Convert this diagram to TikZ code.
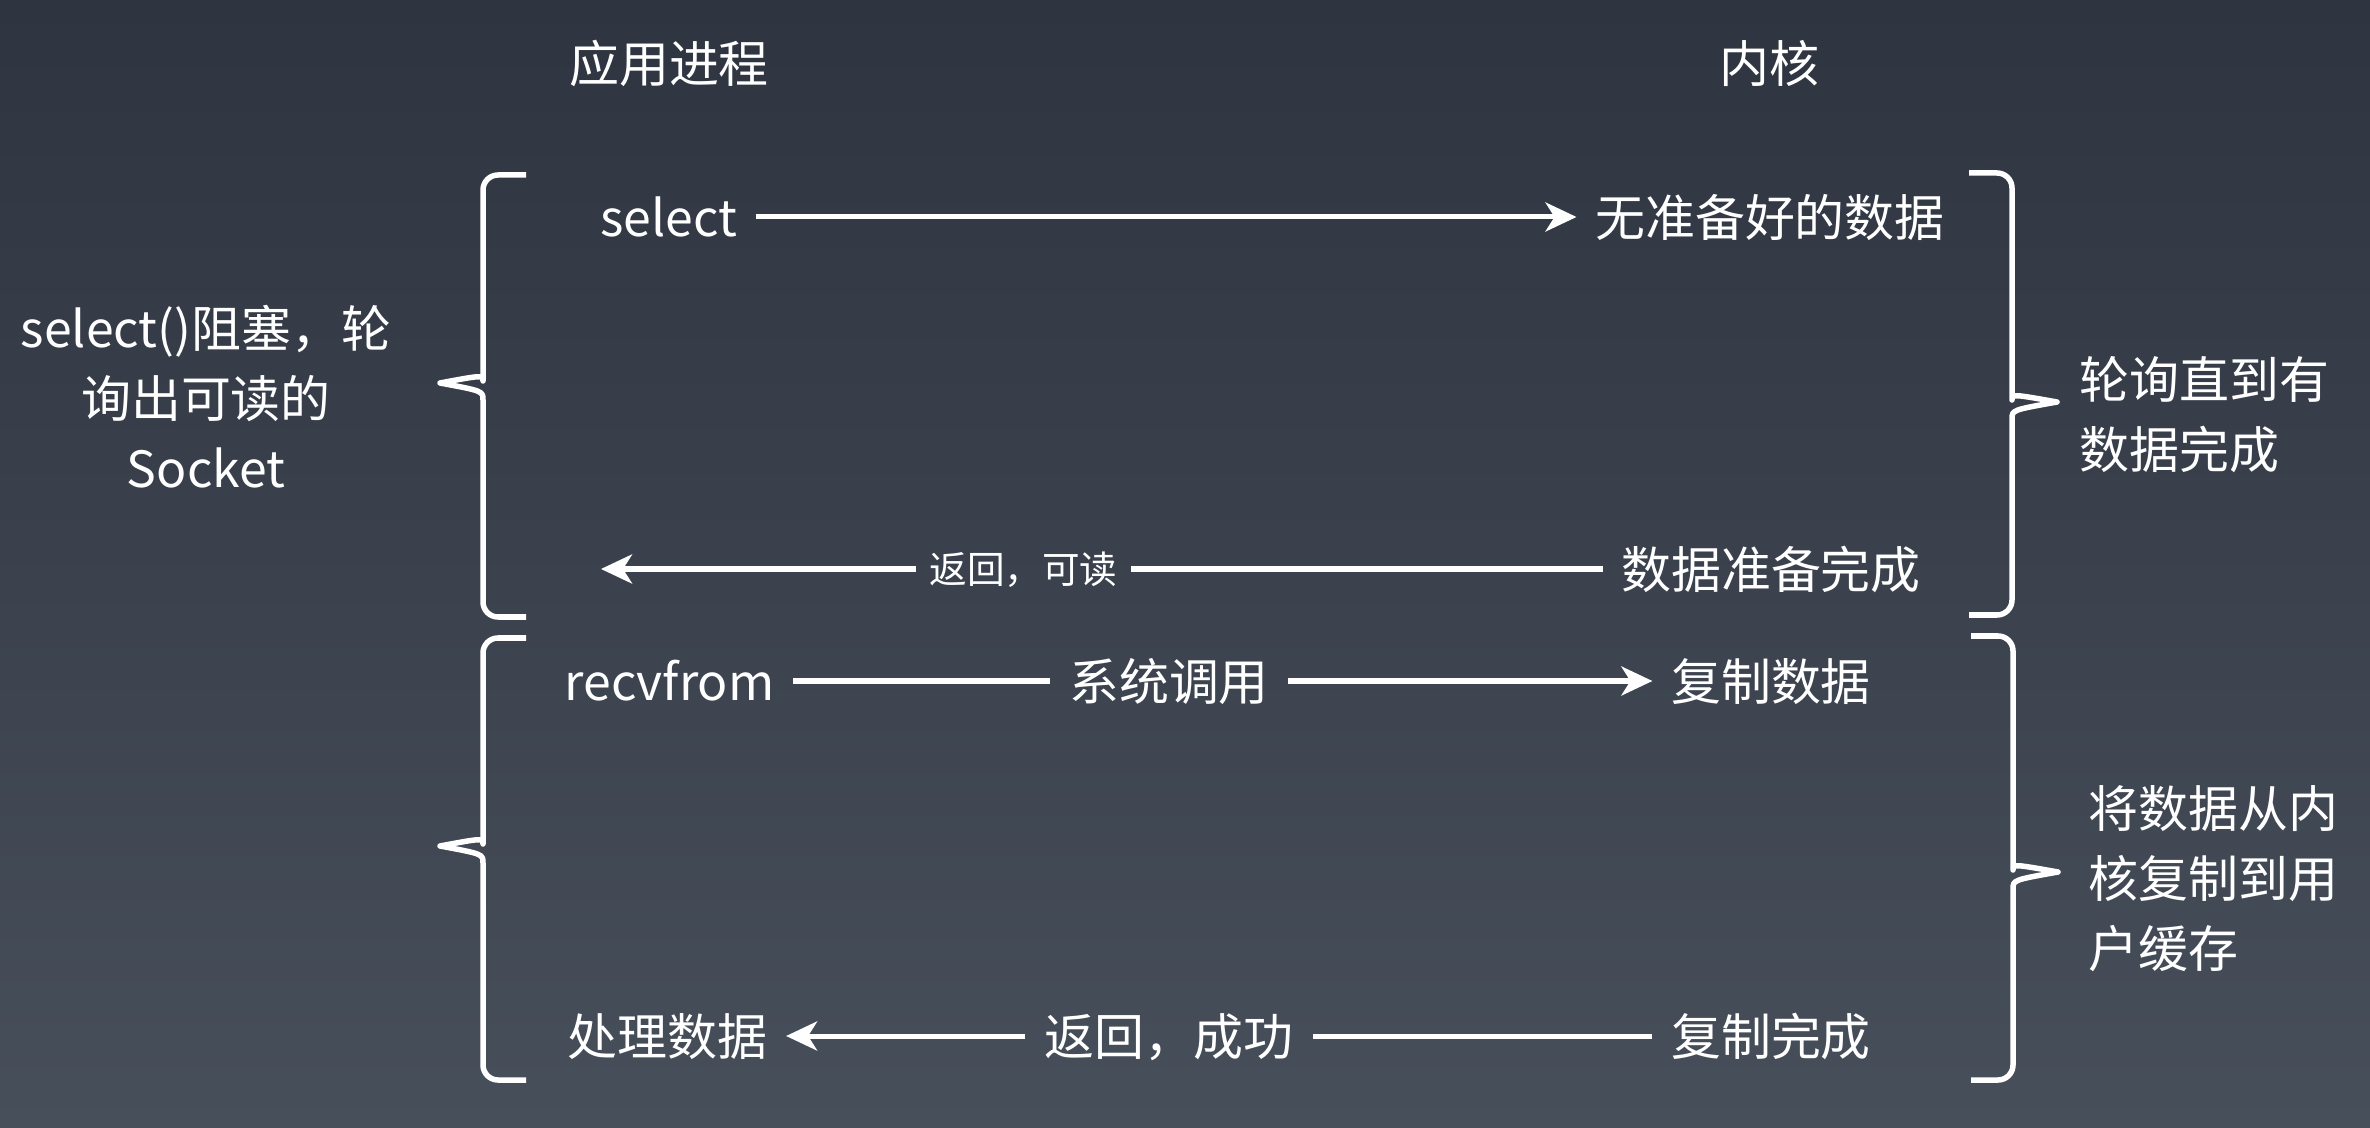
\documentclass[tikz,border=0pt]{standalone}
\usepackage{fontspec}
\newfontfamily\cjk{Noto Sans CJK SC}
\usetikzlibrary{arrows.meta}
\definecolor{bgtop}{RGB}{46,52,64}
\definecolor{bgbot}{RGB}{71,79,91}
\begin{document}
\begin{tikzpicture}[x=0.01cm,y=-0.01cm,
  lbl/.style={font=\cjk\fontsize{14.2pt}{20pt}\selectfont, text=white, inner xsep=0.18cm, inner ysep=0pt, text height=0.44cm, text depth=0.06cm},
  smalllbl/.style={font=\cjk\fontsize{10.7pt}{14pt}\selectfont, text=white, inner xsep=0.13cm, inner ysep=0pt, text height=0.33cm, text depth=0.045cm},
  multi/.style={font=\cjk\fontsize{14.2pt}{19.9pt}\selectfont, text=white, inner sep=0pt},
  conn/.style={draw=white, line width=0.05cm},
  arr/.style={conn, -{Stealth[length=0.31cm,width=0.29cm,inset=0.09cm]}},
  bracepath/.style={draw=white, line width=0.055cm, line join=round}]
\useasboundingbox (0,0) rectangle (2370,1128);
\shade[top color=bgtop, bottom color=bgbot] (0,0) rectangle (2370,1128);

% titles
\node[lbl] (tapp) at (669,63) {应用进程};
\node[lbl] (tker) at (1769,63) {内核};

% braces
\draw[bracepath] (526,175) [rounded corners=0.15cm] -- (483,175) -- (483,366) [sharp corners] .. controls (483,375) .. (440,383) .. controls (483,391) .. (483,400) [rounded corners=0.15cm] -- (483,617) -- (526,617);
\draw[bracepath] (526,638) [rounded corners=0.15cm] -- (483,638) -- (483,829) [sharp corners] .. controls (483,838) .. (440,846) .. controls (483,854) .. (483,863) [rounded corners=0.15cm] -- (483,1080) -- (526,1080);
\draw[bracepath] (1969,173) [rounded corners=0.15cm] -- (2012,173) -- (2012,385) [sharp corners] .. controls (2012,394) .. (2057,402) .. controls (2012,410) .. (2012,419) [rounded corners=0.15cm] -- (2012,615) -- (1969,615);
\draw[bracepath] (1971,636) [rounded corners=0.15cm] -- (2013,636) -- (2013,855) [sharp corners] .. controls (2013,864) .. (2058,872) .. controls (2013,880) .. (2013,889) [rounded corners=0.15cm] -- (2013,1080) -- (1971,1080);

% side labels
\node[multi, align=center] (lsel) at (206,397) {select()阻塞，轮\\询出可读的\\Socket};
\node[multi, align=left, anchor=west] (rpoll) at (2079,414.5) {轮询直到有\\数据完成};
\node[multi, align=left, anchor=west] (rcopy) at (2088,879) {将数据从内\\核复制到用\\户缓存};

% phase 1
\node[lbl] (sel) at (668.5,217) {select};
\node[lbl] (nodata) at (1770,217) {无准备好的数据};
\node[smalllbl] (retread) at (1023.5,569) {返回，可读};
\node[lbl] (ready) at (1771,569) {数据准备完成};
\coordinate (retend) at (601,569);
\draw[arr] (sel.east) -- (nodata.west);
\draw[conn] (ready.west) -- (retread.east);
\draw[arr] (retread.west) -- (retend);

% phase 2
\node[lbl] (recv) at (669.5,681) {recvfrom};
\node[lbl] (sys) at (1169,681) {系统调用};
\node[lbl] (copy) at (1771,681) {复制数据};
\node[lbl] (proc) at (667.5,1036) {处理数据};
\node[lbl] (retok) at (1169,1036) {返回，成功};
\node[lbl] (copydone) at (1771,1036) {复制完成};
\draw[conn] (recv.east) -- (sys.west);
\draw[arr] (sys.east) -- (copy.west);
\draw[conn] (copydone.west) -- (retok.east);
\draw[arr] (retok.west) -- (proc.east);
\end{tikzpicture}
\end{document}
